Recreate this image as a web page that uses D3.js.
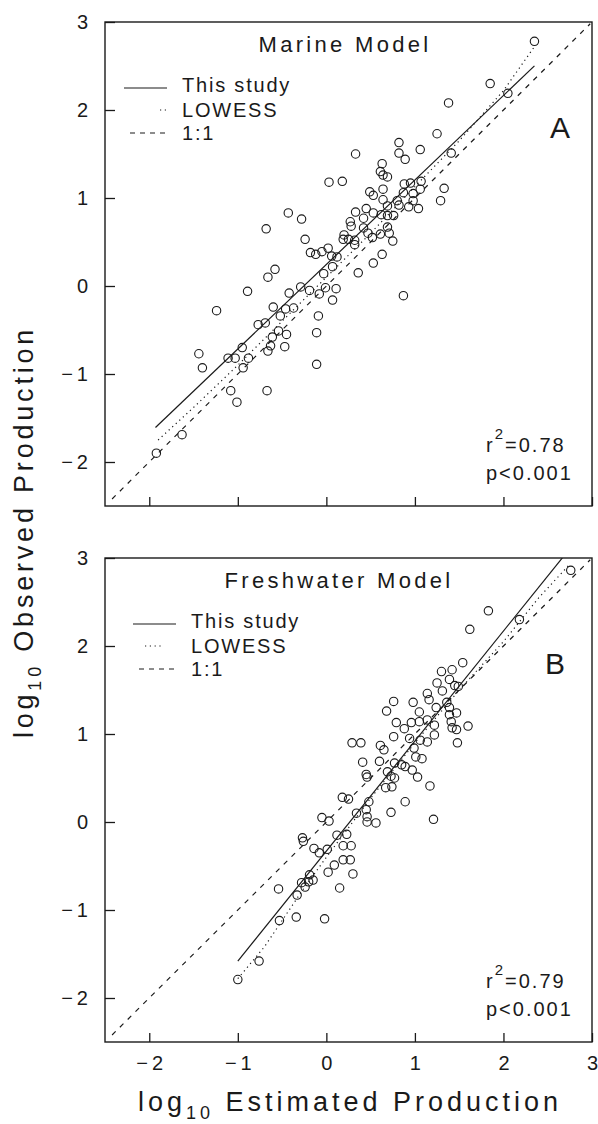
<!DOCTYPE html>
<html>
<head>
<meta charset="utf-8">
<script src="https://cdn.jsdelivr.net/npm/d3@7"></script>
<style>
  body { margin: 0; background: #fff; }
  svg { display: block; font-family: "Liberation Sans", Arial, sans-serif; white-space: pre; }
</style>
</head>
<body>
<div id="chart"></div>
<script>
// shared axes (log10 units)
const axisDomain = [-2.5, 3];
const xTicks = [-2, -1, 0, 1, 2, 3];
const yTicks = [-2, -1, 0, 1, 2, 3];

// panel A - marine model, estimated (x) vs observed (y)
const marineEst = [
  1.25, 0.82, 1.06, 0.33, 0.82, 0.89, 0.63, 0.61, 0.64, 0.69,
  0.03, 0.18, 1.07, 0.95, 0.88, 0.64, 0.49, 0.53, 0.87, 1.06,
  0.98, 0.64, 0.80, 0.98, 1.29, 0.45, 0.69, 0.82, 0.93, 1.04,
  0.33, 0.53, 0.42, 0.62, 0.69, 0.76, -0.43, -0.28, 0.27, 0.28,
  -0.68, 0.42, 0.47, 0.69, 0.71, 0.20, -0.24, 0.19, 0.25, 0.32,
  0.52, 0.61, 0.75, 0.32, 0.02, -0.18, -0.12, -0.05, 0.12, 0.06,
  0.63, 0.53, 0.07, -0.58, -0.66, -0.03, 0.36, -0.29, -0.19, -0.01,
  0.11, -0.89, -0.42, -0.08, 0.87, 0.07, -0.60, -0.46, -0.37, -1.24,
  -0.52, -0.09, -0.77, -0.69, -0.54, -0.45, -0.61, -0.11, -0.63, -0.47,
  -0.95, -0.66, -1.11, -1.03, -0.88, -1.44, 2.35, 1.85, 2.05, 1.38,
  1.41, 1.33, -0.11, -1.40, -0.94, -1.08, -1.01, -0.67, -1.63, -1.92
];
const marineObs = [
  1.73, 1.63, 1.55, 1.50, 1.51, 1.44, 1.39, 1.30, 1.26, 1.24,
  1.18, 1.19, 1.19, 1.17, 1.16, 1.10, 1.07, 1.03, 1.06, 1.10,
  1.05, 0.98, 0.97, 0.97, 0.97, 0.88, 0.91, 0.92, 0.90, 0.88,
  0.84, 0.83, 0.77, 0.81, 0.80, 0.80, 0.83, 0.76, 0.73, 0.68,
  0.65, 0.66, 0.60, 0.67, 0.60, 0.58, 0.53, 0.53, 0.53, 0.52,
  0.55, 0.59, 0.51, 0.47, 0.43, 0.38, 0.36, 0.39, 0.33, 0.34,
  0.36, 0.26, 0.22, 0.19, 0.10, 0.14, 0.15, -0.01, -0.05, -0.02,
  -0.03, -0.06, -0.08, -0.09, -0.11, -0.16, -0.24, -0.26, -0.25, -0.28,
  -0.34, -0.34, -0.44, -0.42, -0.51, -0.55, -0.58, -0.53, -0.68, -0.69,
  -0.70, -0.74, -0.82, -0.82, -0.82, -0.77, 2.78, 2.30, 2.19, 2.08,
  1.51, 1.11, -0.89, -0.93, -0.93, -1.19, -1.32, -1.19, -1.69, -1.90
];
// regression "This study": [slope, intercept] and x extent
const marineFit = [0.96, 0.245];
const marineFitRange = [-1.93, 2.35];
const marineLowessX = [-1.9, -1.5, -1.0, -0.5, 0, 0.5, 1.0, 1.5, 2.0, 2.35];
const marineLowessY = [-1.75, -1.38, -0.9, -0.4, 0.1, 0.6, 1.13, 1.65, 2.22, 2.72];

// panel B - freshwater model
const freshEst = [
  2.76, 1.83, 1.62, 2.18, 1.54, 1.30, 1.42, 1.25, 1.39, 1.45,
  1.31, 1.14, 1.16, 1.49, 1.36, 0.76, 0.98, 0.68, 1.39, 1.47,
  1.39, 1.24, 1.05, 0.79, 0.96, 0.88, 1.05, 1.14, 1.22, 1.22,
  1.41, 1.42, 1.47, 1.60, 1.48, 0.76, 0.94, 1.06, 1.14, 0.29,
  0.39, 0.61, 0.65, 0.99, 1.01, 1.08, 0.60, 0.77, 0.85, 0.89,
  0.41, 0.69, 0.73, 0.97, 1.03, 0.45, 0.46, 0.77, 0.67, 0.74,
  1.17, 0.18, 0.25, 0.48, 0.89, 0.45, 0.34, 0.46, 0.73, 0.46,
  0.56, 1.21, -0.05, 0.03, 0.12, 0.23, -0.27, -0.26, -0.14, 0.01,
  -0.08, 0.19, 0.28, 0.09, 0.19, 0.27, 0.02, 0.30, 0.15, -0.19,
  -0.28, -0.20, -0.15, -0.24, -0.33, -0.54, -0.53, -0.34, -0.02, -0.76,
  -1.00
];
const freshObs = [
  2.86, 2.40, 2.19, 2.30, 1.81, 1.71, 1.73, 1.58, 1.62, 1.55,
  1.49, 1.46, 1.39, 1.54, 1.36, 1.37, 1.36, 1.26, 1.30, 1.24,
  1.22, 1.30, 1.25, 1.13, 1.13, 1.06, 1.14, 1.16, 1.10, 0.99,
  1.14, 1.07, 1.05, 1.09, 0.90, 0.97, 0.95, 0.93, 0.91, 0.90,
  0.90, 0.87, 0.82, 0.84, 0.74, 0.72, 0.69, 0.67, 0.65, 0.63,
  0.68, 0.57, 0.52, 0.59, 0.51, 0.54, 0.51, 0.50, 0.39, 0.40,
  0.41, 0.28, 0.26, 0.23, 0.23, 0.14, 0.10, 0.06, 0.11, 0.00,
  -0.01, 0.03, 0.05, 0.01, -0.15, -0.14, -0.18, -0.22, -0.30, -0.31,
  -0.35, -0.27, -0.27, -0.49, -0.43, -0.43, -0.57, -0.59, -0.75, -0.60,
  -0.69, -0.68, -0.66, -0.74, -0.83, -0.76, -1.12, -1.08, -1.10, -1.58,
  -1.79
];
const freshFit = [1.25, -0.33];
const freshFitRange = [-1.0, 2.67];
const freshLowessX = [-1.0, -0.7, -0.3, 0, 0.5, 1.0, 1.5, 2.0, 2.4, 2.75];
const freshLowessY = [-1.78, -1.42, -0.82, -0.4, 0.27, 0.9, 1.5, 2.05, 2.55, 2.93];

// 1:1 line extent
const identityRange = [-2.42, 2.98];

const legendLabels = ['This study', 'LOWESS', '1:1'];

const panels = [
  { letter: 'A', title: 'Marine Model', est: marineEst, obs: marineObs,
    fit: marineFit, fitRange: marineFitRange, lowX: marineLowessX, lowY: marineLowessY,
    r2: '0.78', top: 22, legendX: 124, lowKey: [36, 43], titleX: 345, letterX: 550, xLabels: false },
  { letter: 'B', title: 'Freshwater Model', est: freshEst, obs: freshObs,
    fit: freshFit, fitRange: freshFitRange, lowX: freshLowessX, lowY: freshLowessY,
    r2: '0.79', top: 558, legendX: 133, lowKey: [12, 29], titleX: 339, letterX: 545, xLabels: true }
];

const W = 598, H = 1124;
const plotLeft = 105, plotRight = 592, plotH = 484;
const ink = '#1a1a1a';

const svg = d3.select('#chart').append('svg').attr('width', W).attr('height', H);

const tickFmt = d => (d < 0 ? '\u2212\u2009' + Math.abs(d) : String(d));

panels.forEach((p, i) => {
  const x = d3.scaleLinear().domain(axisDomain).range([plotLeft, plotRight]);
  const y = d3.scaleLinear().domain(axisDomain).range([p.top + plotH, p.top]);
  const bottom = p.top + plotH;
  const g = svg.append('g');

  svg.append('clipPath').attr('id', 'clip' + i)
    .append('rect')
    .attr('x', plotLeft).attr('y', p.top)
    .attr('width', plotRight - plotLeft).attr('height', plotH);

  // axes, ticks pointing inwards
  const yAxis = d3.axisLeft(y).tickValues(yTicks).tickFormat(tickFmt)
    .tickSize(-10).tickPadding(17);
  const yg = g.append('g').attr('transform', `translate(${plotLeft},0)`).call(yAxis);

  const xAxis = d3.axisBottom(x).tickValues(xTicks)
    .tickFormat(p.xLabels ? tickFmt : '')
    .tickSize(-9).tickPadding(14);
  const xg = g.append('g').attr('transform', `translate(0,${bottom})`).call(xAxis);

  [yg, xg].forEach(a => {
    a.select('.domain').remove();
    a.selectAll('line').attr('stroke', ink).attr('stroke-width', 1.3);
    a.selectAll('text').attr('fill', ink)
      .style('font-family', '"Liberation Sans", Arial, sans-serif')
      .style('font-size', '20px');
  });

  // frame
  g.append('rect')
    .attr('x', plotLeft).attr('y', p.top)
    .attr('width', plotRight - plotLeft).attr('height', plotH)
    .attr('fill', 'none').attr('stroke', ink).attr('stroke-width', 1.4);

  const lines = g.append('g').attr('clip-path', `url(#clip${i})`)
    .attr('fill', 'none').attr('stroke', ink).attr('stroke-width', 1.2);

  // 1:1
  lines.append('line')
    .attr('x1', x(identityRange[0])).attr('y1', y(identityRange[0]))
    .attr('x2', x(identityRange[1])).attr('y2', y(identityRange[1]))
    .attr('stroke-dasharray', '5,6');

  // LOWESS
  const lowPts = p.lowX.map((v, k) => [v, p.lowY[k]]);
  lines.append('path')
    .attr('d', d3.line().x(d => x(d[0])).y(d => y(d[1]))(lowPts))
    .attr('stroke-dasharray', '1.2,3.6');

  // this study regression
  const [b1, b0] = p.fit;
  lines.append('line')
    .attr('x1', x(p.fitRange[0])).attr('y1', y(b0 + b1 * p.fitRange[0]))
    .attr('x2', x(p.fitRange[1])).attr('y2', y(b0 + b1 * p.fitRange[1]));

  // points
  g.append('g').selectAll('circle')
    .data(p.est.map((v, k) => [v, p.obs[k]]))
    .join('circle')
    .attr('cx', d => x(d[0])).attr('cy', d => y(d[1]))
    .attr('r', 4.2)
    .attr('fill', 'none').attr('stroke', ink).attr('stroke-width', 1.1);

  // title
  g.append('text')
    .attr('x', p.titleX).attr('y', p.top + 30)
    .attr('text-anchor', 'middle')
    .style('font-size', '22px').style('letter-spacing', '3.3px')
    .attr('fill', ink).text(p.title);

  // legend
  const lg = g.append('g').attr('stroke', ink).attr('stroke-width', 1.2);
  const lx = p.legendX;
  lg.append('line').attr('x1', lx).attr('x2', lx + 43)
    .attr('y1', p.top + 66).attr('y2', p.top + 66);
  lg.append('line').attr('x1', lx + p.lowKey[0]).attr('x2', lx + p.lowKey[1])
    .attr('y1', p.top + 88).attr('y2', p.top + 88)
    .attr('stroke-dasharray', '1.2,3.6');
  lg.append('line').attr('x1', lx + 6).attr('x2', lx + 43)
    .attr('y1', p.top + 111).attr('y2', p.top + 111)
    .attr('stroke-dasharray', '5,5');

  g.append('g').selectAll('text')
    .data(legendLabels)
    .join('text')
    .attr('x', lx + 58)
    .attr('y', (d, k) => p.top + [70, 95, 118][k])
    .style('font-size', '20px').style('letter-spacing', '1.8px')
    .attr('fill', ink).text(d => d);

  // panel letter
  g.append('text')
    .attr('x', p.letterX).attr('y', p.top + 116)
    .style('font-size', '30px').attr('fill', ink).text(p.letter);

  // statistics
  const st = g.append('text')
    .attr('x', 486).attr('y', bottom - 54)
    .style('font-size', '20px').style('letter-spacing', '2px').attr('fill', ink);
  st.append('tspan').text('r');
  st.append('tspan').attr('dy', -13).style('font-size', '15px').text('2');
  st.append('tspan').attr('dy', 13).text('=' + p.r2);

  g.append('text')
    .attr('x', 486).attr('y', bottom - 26)
    .style('font-size', '20px').style('letter-spacing', '2px').attr('fill', ink)
    .text('p<0.001');
});

// axis titles
const xt = svg.append('text')
  .attr('x', 350).attr('y', 1111)
  .attr('text-anchor', 'middle')
  .style('font-size', '27px').style('letter-spacing', '4px').attr('fill', ink);
xt.append('tspan').text('log');
xt.append('tspan').attr('dy', 8).style('font-size', '18px').text('10');
xt.append('tspan').attr('dy', -8).text(' Estimated Production');

const yt = svg.append('text')
  .attr('transform', 'translate(33,532) rotate(-90)')
  .attr('text-anchor', 'middle')
  .style('font-size', '27px').style('letter-spacing', '3.8px').attr('fill', ink);
yt.append('tspan').text('log');
yt.append('tspan').attr('dy', 8).style('font-size', '18px').text('10');
yt.append('tspan').attr('dy', -8).text(' Observed Production');
</script>
</body>
</html>
